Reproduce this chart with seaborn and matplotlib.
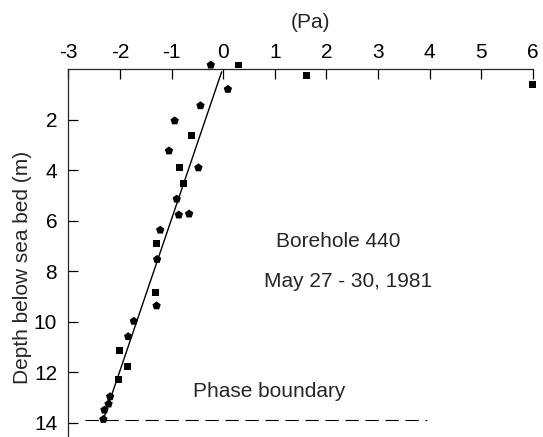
import matplotlib.pyplot as plt
import seaborn as sns
import pandas as pd

# readings (Pa) against depth below sea bed (m)
pressure = [-0.24, 0.29, 1.62, 5.99, 0.09, -0.44, -0.94, -0.62, -1.05, -0.84,
            -0.48, -0.77, -0.90, -0.86, -0.66, -1.22, -1.29, -1.28, -1.32, -1.29,
            -1.73, -1.84, -2.01, -1.86, -2.02, -2.19, -2.22, -2.30, -2.32]
depth = [-0.17, -0.17, 0.23, 0.62, 0.79, 1.44, 2.04, 2.63, 3.23, 3.88,
         3.90, 4.54, 5.14, 5.77, 5.73, 6.37, 6.89, 7.53, 8.84, 9.37,
         9.98, 10.59, 11.16, 11.76, 12.30, 12.97, 13.26, 13.50, 13.87]
kind = ['p', 's', 's', 's', 'p', 'p', 'p', 's', 'p', 's',
        'p', 's', 'p', 'p', 'p', 'p', 's', 'p', 's', 'p',
        'p', 'p', 's', 's', 's', 'p', 'p', 'p', 'p']

# fitted line and phase boundary
fit_pressure = [-0.03, -2.32]
fit_depth = [0.10, 13.87]
boundary_pressure = [-2.67, 3.95]
boundary_depth = [13.89, 13.89]

df = pd.DataFrame({'pressure': pressure, 'depth': depth, 'kind': kind})

sns.set_style('ticks')
plt.rcParams['font.family'] = ['Liberation Sans', 'DejaVu Sans']
plt.rcParams['axes.unicode_minus'] = False

fig = plt.figure(figsize=(5.43, 4.37), dpi=100)
ax = fig.add_axes([68.3 / 543, 0, (533 - 68.3) / 543, 1 - 69.3 / 437])

sns.scatterplot(data=df, x='pressure', y='depth', style='kind', size='kind',
                markers={'p': 'p', 's': 's'}, sizes={'p': 40, 's': 25},
                color='black', linewidth=0, legend=False, clip_on=False, ax=ax)
sns.lineplot(x=fit_pressure, y=fit_depth, color='black', lw=1.0,
             sort=False, estimator=None, ax=ax)
ax.plot(boundary_pressure, boundary_depth, color='black', lw=0.8,
        dashes=(12, 6))

ax.set_xlim(-3, 6)
ax.set_ylim(14.57, 0)
ax.set_xticks(range(-3, 7))
ax.set_yticks(range(2, 15, 2))

ax.xaxis.tick_top()
ax.xaxis.set_label_position('top')
ax.spines['right'].set_visible(False)
ax.spines['bottom'].set_visible(False)
for side in ['top', 'left']:
    ax.spines[side].set_linewidth(0.9)
ax.tick_params(axis='both', direction='in', length=7, width=0.9,
               labelsize=15, colors='black')
ax.tick_params(axis='x', pad=5)
ax.tick_params(axis='y', pad=8)

ax.set_xlabel('(Pa)', fontsize=15)
ax.xaxis.set_label_coords((310 - 68.3) / 464.7, 1.112)
ax.set_ylabel('Depth below sea bed (m)', fontsize=15)
ax.yaxis.set_label_coords(-0.078, 0.462)

ax.text(2.22, 6.83, 'Borehole 440', fontsize=15, ha='center', va='center')
ax.text(2.42, 8.41, 'May 27 - 30, 1981', fontsize=15, ha='center', va='center')
ax.text(0.90, 12.77, 'Phase boundary', fontsize=15, ha='center', va='center')

plt.savefig('out.png', dpi=100)
